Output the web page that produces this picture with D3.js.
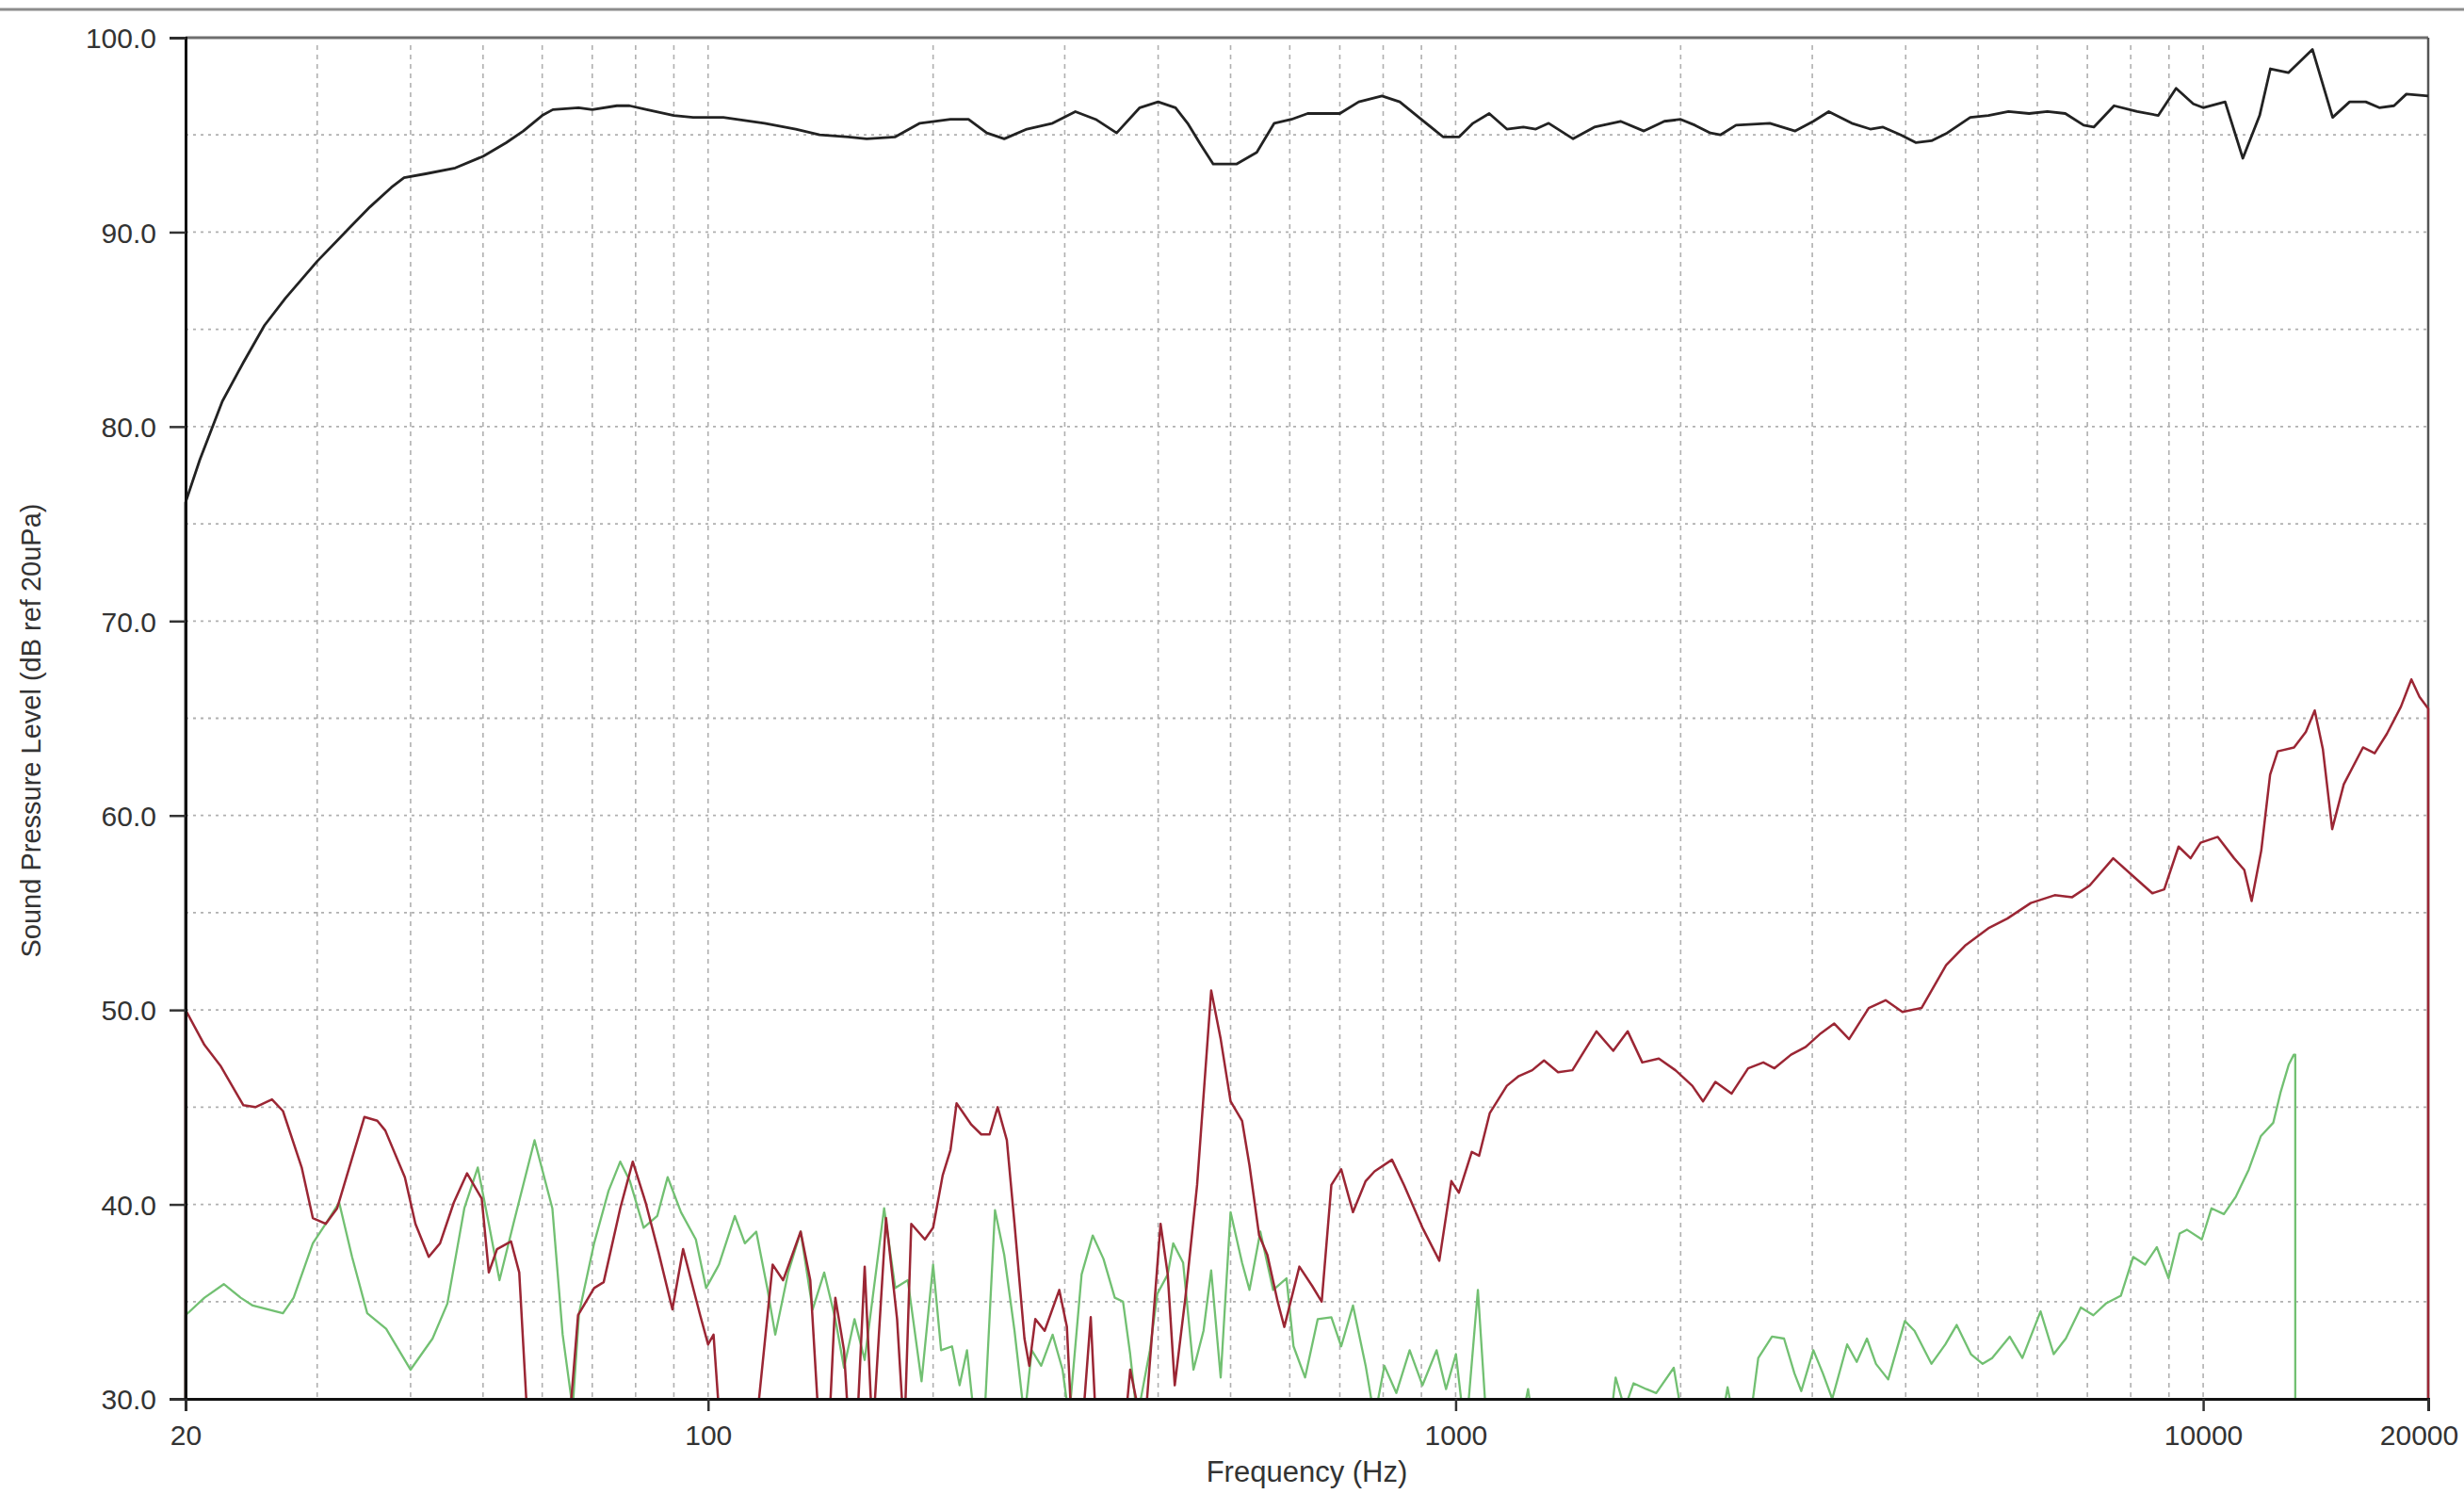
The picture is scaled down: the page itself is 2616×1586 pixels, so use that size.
<!DOCTYPE html>
<html>
<head>
<meta charset="utf-8">
<script src="https://cdn.jsdelivr.net/npm/d3@7/dist/d3.min.js"></script>
<style>
  html, body { margin: 0; padding: 0; background: #ffffff; }
  svg { display: block; }
</style>
</head>
<body>
<script>
// ---------------- DATA ----------------
const yTicks = [30, 40, 50, 60, 70, 80, 90, 100];
const yGrid = [35, 40, 45, 50, 55, 60, 65, 70, 75, 80, 85, 90, 95];
const xTicks = [20, 100, 1000, 10000, 20000];
const xGrid = [30, 40, 50, 60, 70, 80, 90, 100, 200, 300, 400, 500, 600, 700, 800, 900,
               1000, 2000, 3000, 4000, 5000, 6000, 7000, 8000, 9000, 10000];

// Frequency response (black)
const splFreq = [20, 20, 20.9, 22.4, 23.9, 25.5, 27.2, 30, 33.1, 35.3, 37.7, 39.2, 41.9, 45.9, 50, 53.7, 56.6, 60, 62, 67.1, 70, 75.5, 78.5, 82.8, 90, 95.5, 104.8, 119, 131, 141, 154, 163, 178, 192, 211, 223, 236, 249, 267, 289, 310, 330, 352, 378, 400, 422, 438, 456, 474, 509, 542, 572, 603, 634, 700, 742, 797, 842, 893, 962, 1011, 1055, 1109, 1171, 1232, 1280, 1332, 1436, 1533, 1662, 1786, 1902, 2000, 2090, 2192, 2260, 2372, 2632, 2846, 3010, 3156, 3388, 3587, 3730, 3940, 4130, 4330, 4545, 4880, 5160, 5490, 5850, 6190, 6540, 6920, 7140, 7600, 8160, 8710, 9200, 9700, 10000, 10700, 11300, 11900, 12300, 13000, 14000, 14900, 15700, 16500, 17200, 18000, 18700, 20000];
const splDb = [30, 76.1, 78.3, 81.3, 83.3, 85.2, 86.6, 88.5, 90.2, 91.3, 92.3, 92.8, 93.0, 93.3, 93.9, 94.6, 95.2, 96.0, 96.3, 96.4, 96.3, 96.5, 96.5, 96.3, 96.0, 95.9, 95.9, 95.6, 95.3, 95.0, 94.9, 94.8, 94.9, 95.6, 95.8, 95.8, 95.1, 94.8, 95.3, 95.6, 96.2, 95.8, 95.1, 96.4, 96.7, 96.4, 95.6, 94.5, 93.5, 93.5, 94.1, 95.6, 95.8, 96.1, 96.1, 96.7, 97.0, 96.7, 95.9, 94.9, 94.9, 95.6, 96.1, 95.3, 95.4, 95.3, 95.6, 94.8, 95.4, 95.7, 95.2, 95.7, 95.8, 95.5, 95.1, 95.0, 95.5, 95.6, 95.2, 95.7, 96.2, 95.6, 95.3, 95.4, 95.0, 94.6, 94.7, 95.1, 95.9, 96.0, 96.2, 96.1, 96.2, 96.1, 95.5, 95.4, 96.5, 96.2, 96.0, 97.4, 96.6, 96.4, 96.7, 93.8, 96.0, 98.4, 98.2, 99.4, 95.9, 96.7, 96.7, 96.4, 96.5, 97.1, 97.0];

// 2nd harmonic distortion (dark red)
const h2Freq = [20, 20, 21.2, 22.3, 23.9, 24.8, 26.1, 27, 28.6, 29.6, 30.8, 31.9, 33.3, 34.7, 36.1, 37, 39.3, 40.6, 42.3, 43.8, 45.7, 47.6, 49.8, 50.9, 52.2, 54.5, 55.9, 57.5, 65, 67, 70.4, 72.5, 76.3, 79.3, 82.5, 85.9, 89.6, 92.6, 97.6, 100, 101.7, 104, 115, 117, 122, 126, 133, 137, 141, 145, 148, 152, 154.5, 158, 162, 166, 173, 179, 183, 187, 195, 200, 206, 211, 215, 225, 232, 238, 244, 251, 257, 265, 269, 274, 282, 295, 302, 307, 316, 325, 331, 360, 367, 383, 403, 412, 421, 435, 451, 471, 485, 500, 518, 530, 546, 560, 578, 590, 607, 618, 643, 662, 682, 703, 729, 758, 779, 822, 853, 903, 951, 987, 1010, 1051, 1075, 1111, 1171, 1215, 1266, 1313, 1371, 1433, 1543, 1625, 1699, 1777, 1870, 1968, 2073, 2143, 2226, 2340, 2462, 2580, 2670, 2810, 2940, 3080, 3210, 3360, 3570, 3760, 3960, 4200, 4530, 4800, 5160, 5470, 5880, 6330, 6680, 7050, 7580, 8050, 8550, 8870, 9270, 9620, 9920, 10460, 11000, 11350, 11610, 11960, 12290, 12580, 13230, 13720, 14100, 14460, 14880, 15420, 16360, 16960, 17610, 18390, 18990, 19470, 20000, 20000];
const h2Db = [30, 50, 48.2, 47.1, 45.1, 45.0, 45.4, 44.8, 41.9, 39.3, 39.0, 39.8, 42.2, 44.5, 44.3, 43.8, 41.4, 39.0, 37.3, 38.0, 40.1, 41.6, 40.3, 36.5, 37.7, 38.1, 36.5, 28, 28, 34.3, 35.7, 36.0, 39.8, 42.2, 40.1, 37.5, 34.6, 37.7, 34.3, 32.8, 33.3, 28, 28, 30, 36.9, 36.1, 38.6, 36.1, 28, 28, 35.2, 32.5, 28, 28, 36.8, 28, 39.3, 34.1, 28, 39.0, 38.2, 38.8, 41.5, 42.8, 45.2, 44.1, 43.6, 43.6, 45.0, 43.3, 39.0, 33.1, 31.7, 34.1, 33.5, 35.6, 33.7, 28, 28, 34.2, 28, 28, 31.5, 28, 39.0, 36.4, 30.7, 35.2, 41.0, 51.0, 48.5, 45.3, 44.3, 42.0, 38.4, 37.4, 35.0, 33.7, 35.6, 36.8, 35.8, 35.0, 41.0, 41.8, 39.6, 41.2, 41.7, 42.3, 41.0, 38.8, 37.1, 41.2, 40.6, 42.7, 42.5, 44.7, 46.1, 46.6, 46.9, 47.4, 46.8, 46.9, 48.9, 47.9, 48.9, 47.3, 47.5, 46.9, 46.1, 45.3, 46.3, 45.7, 47.0, 47.3, 47.0, 47.7, 48.1, 48.8, 49.3, 48.5, 50.1, 50.5, 49.9, 50.1, 52.3, 53.3, 54.2, 54.7, 55.5, 55.9, 55.8, 56.4, 57.8, 56.9, 56.0, 56.2, 58.4, 57.8, 58.6, 58.9, 57.8, 57.2, 55.6, 58.2, 62.1, 63.3, 63.5, 64.3, 65.4, 63.4, 59.3, 61.6, 63.5, 63.2, 64.2, 65.6, 67.0, 66.1, 65.5, 30];

// 3rd harmonic distortion (green)
const h3Freq = [20, 20, 21.2, 22.5, 23.7, 24.6, 27, 27.9, 29.6, 30.8, 32.1, 33.4, 35, 37.1, 40, 42.8, 44.8, 47.2, 49.2, 50.9, 52.6, 54.9, 58.6, 61.9, 63.9, 65.9, 67.2, 70.4, 73.6, 76.3, 78.6, 82, 85.5, 88.3, 92, 96.3, 99.4, 103.4, 108.6, 112, 116, 120, 123, 128, 133, 138, 143, 148, 152, 157, 162, 172, 178, 185, 193, 200, 205, 212, 217, 222, 227, 235, 242, 249, 257, 265, 271, 279, 289, 298, 304, 316, 327, 338, 350, 359, 367, 375, 390, 399, 412, 419, 432, 446, 460, 471, 485, 500, 518, 530, 548, 570, 594, 607, 629, 654, 682, 703, 729, 758, 779, 803, 833, 868, 903, 943, 971, 1001, 1031, 1071, 1103, 1200, 1250, 1290, 1590, 1637, 1683, 1730, 1800, 1855, 1958, 2010, 2250, 2311, 2380, 2460, 2540, 2650, 2750, 2840, 2900, 3010, 3100, 3190, 3340, 3440, 3550, 3650, 3790, 3990, 4110, 4330, 4520, 4680, 4890, 5070, 5220, 5510, 5730, 6060, 6310, 6550, 6860, 7130, 7410, 7760, 8060, 8360, 8670, 8990, 9300, 9510, 9960, 10260, 10660, 11060, 11510, 11940, 12410, 12700, 13020, 13220, 13280, 13280];
const h3Db = [30, 34.3, 35.2, 35.9, 35.2, 34.8, 34.4, 35.2, 38.0, 39.0, 40.1, 37.3, 34.4, 33.6, 31.5, 33.1, 34.9, 39.8, 41.9, 39.0, 36.1, 39.0, 43.3, 39.8, 33.3, 29.5, 34.4, 38.0, 40.7, 42.2, 41.2, 38.8, 39.4, 41.4, 39.6, 38.2, 35.7, 36.9, 39.4, 38.0, 38.6, 35.7, 33.3, 36.5, 38.6, 34.6, 36.5, 34.1, 31.6, 34.1, 32.0, 39.8, 35.7, 36.1, 30.9, 36.9, 32.5, 32.7, 30.7, 32.5, 29, 30, 39.7, 37.4, 33.5, 29, 32.5, 31.7, 33.3, 31.5, 29, 36.4, 38.4, 37.2, 35.2, 35.0, 32.3, 29, 32.5, 35.4, 36.4, 38.0, 37.0, 31.5, 33.5, 36.6, 31.1, 39.6, 37.0, 35.6, 38.6, 35.6, 36.2, 32.7, 31.1, 34.1, 34.2, 32.7, 34.8, 31.7, 29, 31.7, 30.3, 32.5, 30.7, 32.5, 30.5, 32.3, 28, 35.6, 28, 27, 30.5, 27, 27, 31.1, 29.5, 30.8, 30.5, 30.3, 31.6, 29, 28, 30.6, 28, 28, 32.1, 33.2, 33.1, 31.3, 30.4, 32.5, 31.3, 30, 32.8, 31.9, 33.1, 31.8, 31.0, 34.0, 33.5, 31.8, 32.8, 33.8, 32.3, 31.8, 32.1, 33.2, 32.1, 34.5, 32.3, 33.1, 34.7, 34.3, 34.9, 35.3, 37.3, 36.9, 37.8, 36.2, 38.5, 38.7, 38.2, 39.8, 39.5, 40.4, 41.8, 43.5, 44.2, 45.8, 47.2, 47.7, 47.7, 30];

const yTitle = "Sound Pressure Level (dB ref 20uPa)";
const xTitle = "Frequency (Hz)";

// ---------------- DRAW ----------------
const W = 2616, H = 1586;
const L = 197, R = 2578, T = 40, B = 1485;
const FONT = "'Liberation Sans', Arial, sans-serif";

const svg = d3.select("body").append("svg")
  .attr("width", W).attr("height", H)
  .style("background", "#ffffff");

// top window band line
svg.append("line").attr("x1", 0).attr("x2", W).attr("y1", 10).attr("y2", 10)
  .attr("stroke", "#8c8c8c").attr("stroke-width", 3);

const x = d3.scaleLog().domain([20, 20000]).range([L, R]);
const y = d3.scaleLinear().domain([30, 100]).range([B, T]);

// grid
const grid = svg.append("g");
grid.selectAll(".vg").data(xGrid).enter().append("line")
  .attr("x1", d => x(d)).attr("x2", d => x(d))
  .attr("y1", T + 8).attr("y2", B)
  .attr("stroke", "#b0b0b0").attr("stroke-width", 1.6)
  .attr("stroke-dasharray", "5,5");
grid.selectAll(".hg").data(yGrid).enter().append("line")
  .attr("x1", L).attr("x2", R)
  .attr("y1", d => y(d)).attr("y2", d => y(d))
  .attr("stroke", "#b0b0b0").attr("stroke-width", 1.8)
  .attr("stroke-dasharray", "3,5");

// frame top/right
svg.append("line").attr("x1", L).attr("x2", R).attr("y1", T).attr("y2", T)
  .attr("stroke", "#6e6e6e").attr("stroke-width", 3);
svg.append("line").attr("x1", R).attr("x2", R).attr("y1", T).attr("y2", B)
  .attr("stroke", "#555").attr("stroke-width", 2.5);

// curves (clipped to plot area)
svg.append("clipPath").attr("id", "plotclip").append("rect")
  .attr("x", L - 2).attr("y", T).attr("width", R - L + 4).attr("height", B - T);

const line = d3.line().x(d => x(d[0])).y(d => y(d[1]));
const curves = svg.append("g").attr("clip-path", "url(#plotclip)");
function series(fr, db, color, w) {
  curves.append("path")
    .datum(fr.map((f, i) => [f, db[i]]))
    .attr("d", line)
    .attr("fill", "none")
    .attr("stroke", color)
    .attr("stroke-width", w)
    .attr("stroke-linejoin", "round");
}
series(h3Freq, h3Db, "#72c072", 2.3);
series(h2Freq, h2Db, "#9b2634", 2.5);
series(splFreq, splDb, "#222222", 2.8);

// axes
const yAxis = d3.axisLeft(y).tickValues(yTicks).tickFormat(d3.format(".1f")).tickSize(17).tickPadding(14);
const gy = svg.append("g").attr("transform", `translate(${L},0)`).call(yAxis);
gy.select(".domain").attr("stroke", "#111").attr("stroke-width", 3);
gy.selectAll(".tick line").attr("stroke", "#333").attr("stroke-width", 2.5);
gy.selectAll("text").attr("font-family", FONT)
  .attr("font-size", 30).attr("fill", "#333").attr("dy", "0.36em");

const xAxis = d3.axisBottom(x).tickValues(xTicks).tickFormat(d3.format("d")).tickSize(13).tickPadding(15);
const gx = svg.append("g").attr("transform", `translate(0,${B})`).call(xAxis);
gx.select(".domain").attr("stroke", "#111").attr("stroke-width", 3);
gx.selectAll(".tick line").attr("stroke", "#333").attr("stroke-width", 2.5);
gx.selectAll("text").attr("font-family", FONT)
  .attr("font-size", 30).attr("fill", "#333")
  .attr("dx", d => d === 20000 ? -10 : 0);

// titles
svg.append("text").attr("x", (L + R) / 2).attr("y", 1573)
  .attr("text-anchor", "middle")
  .attr("font-family", FONT)
  .attr("font-size", 31).attr("fill", "#333").text(xTitle);
svg.append("text")
  .attr("transform", `translate(43, ${(T + B) / 2 + 13}) rotate(-90)`)
  .attr("text-anchor", "middle")
  .attr("font-family", FONT)
  .attr("font-size", 29).attr("fill", "#333").text(yTitle);
</script>
</body>
</html>
